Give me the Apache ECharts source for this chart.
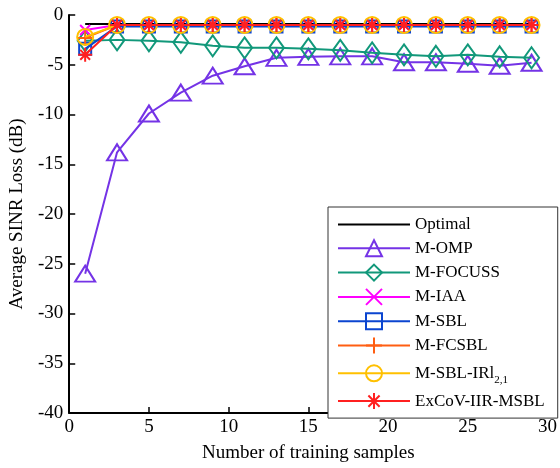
<!DOCTYPE html>
<html>
<head>
<meta charset="utf-8">
<script src="https://cdn.jsdelivr.net/npm/echarts@6/dist/echarts.min.js"></script>
<style>html,body{margin:0;padding:0;background:#fff}#c{width:560px;height:468px}</style>
</head>
<body>
<div id="c"></div>
<script>
var samples = [1,3,5,7,9,11,13,15,17,19,21,23,25,27,29];
var names = ['Optimal','M-OMP','M-FOCUSS','M-IAA','M-SBL','M-FCSBL','M-SBL-IRl2,1','ExCoV-IIR-MSBL'];
var optimal = [-0.9,-0.9,-0.9,-0.9,-0.9,-0.9,-0.9,-0.9,-0.9,-0.9,-0.9,-0.9,-0.9,-0.9,-0.9];
var mOMP = [-26,-13.8,-9.9,-7.8,-6.1,-5.15,-4.3,-4.2,-4.15,-4.15,-4.75,-4.75,-4.9,-5.1,-4.8];
var mFOCUSS = [-2.6,-2.5,-2.6,-2.75,-3.1,-3.3,-3.3,-3.4,-3.55,-3.8,-4.0,-4.15,-4.0,-4.2,-4.3];
var mIAA = [-1.5,-1.0,-1.0,-1.0,-1.0,-1.0,-1.0,-1.0,-1.0,-1.0,-1.0,-1.0,-1.0,-1.0,-1.0];
var mSBL = [-3.4,-1.15,-1.15,-1.15,-1.15,-1.15,-1.15,-1.15,-1.15,-1.15,-1.15,-1.15,-1.15,-1.15,-1.15];
var mFCSBL = [-2.3,-1.0,-1.0,-1.0,-1.0,-1.0,-1.0,-1.0,-1.0,-1.0,-1.0,-1.0,-1.0,-1.0,-1.0];
var mIRl = [-2.2,-1.0,-1.0,-1.0,-1.0,-1.0,-1.0,-1.0,-1.0,-1.0,-1.0,-1.0,-1.0,-1.0,-1.0];
var exCoV = [-4.0,-1.0,-1.0,-1.0,-1.0,-1.0,-1.0,-1.0,-1.0,-1.0,-1.0,-1.0,-1.0,-1.0,-1.0];
var xTicks = [0,5,10,15,20,25,30];
var yTicks = [-40,-35,-30,-25,-20,-15,-10,-5,0];

var colors = ['#000000','#7433E6','#11987A','#FF00FF','#0B45D0','#FF5E12','#FFC000','#FF2020'];
var allData = [optimal,mOMP,mFOCUSS,mIAA,mSBL,mFCSBL,mIRl,exCoV];
var symbols = ['circle','triangle','diamond','path://M0,0L10,10M10,0L0,10','rect','path://M5,0L5,10M0,5L10,5','circle','path://M5,0L5,10M0,5L10,5M1.5,1.5L8.5,8.5M8.5,1.5L1.5,8.5'];
var sizes = [0,[20,16],[15,21],10,12,15,16,14];

function pairs(v){ return samples.map(function(x,i){ return [x, v[i]]; }); }

var series = allData.map(function(v,k){
  var c = colors[k];
  return {
    name: names[k],
    type: 'line',
    data: pairs(v),
    symbol: symbols[k],
    symbolSize: sizes[k],
    showSymbol: k !== 0,
    lineStyle: {color: c, width: 2},
    itemStyle: {color: 'transparent', borderColor: k === 0 ? 'transparent' : c, borderWidth: k === 0 ? 0 : 2},
    emphasis: {disabled: true},
    z: 2 + k,
    animation: false
  };
});

var font = 'Liberation Serif';
var chart = echarts.init(document.getElementById('c'), null, {renderer: 'canvas'});
chart.setOption({
  backgroundColor: '#fff',
  animation: false,
  grid: {left: 68, right: 9, top: 15, bottom: 52, containLabel: false},
  xAxis: {
    type: 'value', min: 0, max: 30, interval: 5,
    name: 'Number of training samples', nameLocation: 'middle', nameGap: 31,
    nameTextStyle: {color: '#000', fontFamily: font, fontSize: 19},
    axisLine: {show: true, onZero: false, lineStyle: {color: '#000', width: 2}},
    axisTick: {show: true, inside: true, length: 6, lineStyle: {color: '#000', width: 1.5}},
    axisLabel: {color: '#000', fontFamily: font, fontSize: 19, margin: 5,
      formatter: function(v){ return xTicks.indexOf(v) >= 0 ? String(v) : ''; }},
    splitLine: {show: false}
  },
  yAxis: {
    type: 'value', min: -40, max: 0, interval: 5,
    name: 'Average SINR Loss (dB)', nameLocation: 'middle', nameGap: 32,
    nameTextStyle: {color: '#000', fontFamily: font, fontSize: 19},
    axisLine: {show: true, onZero: false, lineStyle: {color: '#000', width: 2}},
    axisTick: {show: true, inside: true, length: 6, lineStyle: {color: '#000', width: 1.5}},
    axisLabel: {color: '#000', fontFamily: font, fontSize: 19, margin: 6,
      formatter: function(v){ return yTicks.indexOf(v) >= 0 ? String(v) : ''; }},
    splitLine: {show: false}
  },
  legend: {
    orient: 'vertical', left: 328, top: 207,
    backgroundColor: '#fff', borderColor: '#333', borderWidth: 1,
    padding: [9, 13, 8, 9],
    itemWidth: 72, itemHeight: 20, itemGap: 6.3,
    data: names,
    textStyle: {color: '#000', fontFamily: font, fontSize: 17,
      rich: {
        a: {fontFamily: font, fontSize: 17, color: '#000', lineHeight: 26},
        s: {fontFamily: font, fontSize: 11, color: '#000', lineHeight: 26, padding: [14, 0, 0, 0]}
      }},
    formatter: function(n){ return n === 'M-SBL-IRl2,1' ? '{a|M-SBL-IRl}{s|2,1}' : n; },
    selectedMode: false
  },
  series: series
});
</script>
</body>
</html>
